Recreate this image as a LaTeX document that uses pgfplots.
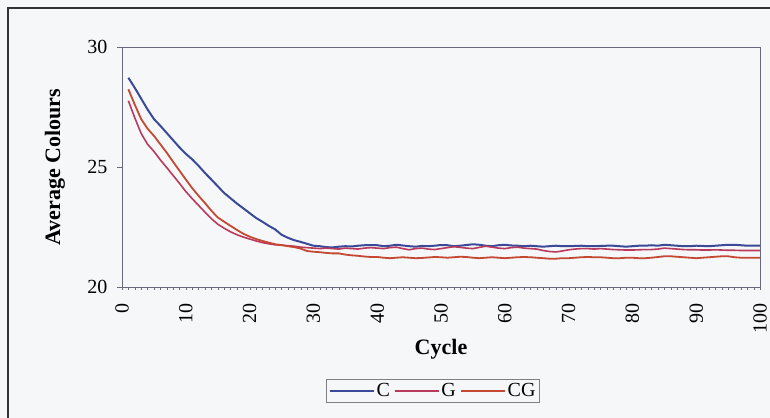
\documentclass[border=0pt]{standalone}
\usepackage{pgfplots}
\pgfplotsset{compat=1.18}
\usepackage{pgfplotstable}
\usepackage{fontspec}
\setmainfont{Liberation Serif}

\definecolor{cC}{RGB}{58,74,150}
\definecolor{cG}{RGB}{185,58,92}
\definecolor{cCG}{RGB}{196,72,50}
\definecolor{bg}{RGB}{246,247,249}
\definecolor{axc}{RGB}{105,105,125}

% average colours per cycle
\pgfplotstableread{
x C G CG
1 28.72 27.76 28.24
2 28.30 27.05 27.60
3 27.85 26.40 27.00
4 27.40 25.95 26.60
5 27.00 25.65 26.30
6 26.72 25.30 25.95
7 26.42 24.98 25.60
8 26.12 24.65 25.22
9 25.82 24.32 24.85
10 25.55 23.98 24.48
11 25.32 23.68 24.12
12 25.05 23.40 23.80
13 24.75 23.12 23.50
14 24.48 22.85 23.18
15 24.20 22.62 22.90
16 23.92 22.45 22.72
17 23.70 22.30 22.55
18 23.48 22.18 22.38
19 23.28 22.08 22.22
20 23.08 22.00 22.10
21 22.88 21.92 22.00
22 22.72 21.85 21.92
23 22.55 21.80 21.85
24 22.40 21.76 21.78
25 22.18 21.74 21.75
26 22.05 21.72 21.70
27 21.95 21.70 21.66
28 21.88 21.66 21.60
29 21.80 21.64 21.50
30 21.72 21.62 21.47
31 21.70 21.60 21.45
32 21.66 21.62 21.42
33 21.65 21.60 21.40
34 21.68 21.58 21.40
35 21.70 21.62 21.35
36 21.69 21.60 21.32
37 21.72 21.58 21.30
38 21.74 21.62 21.27
39 21.75 21.64 21.25
40 21.74 21.62 21.25
41 21.70 21.60 21.22
42 21.72 21.64 21.20
43 21.76 21.66 21.22
44 21.73 21.60 21.24
45 21.70 21.55 21.22
46 21.68 21.60 21.20
47 21.71 21.62 21.21
48 21.70 21.58 21.23
49 21.72 21.56 21.25
50 21.75 21.60 21.24
51 21.74 21.64 21.22
52 21.70 21.68 21.24
53 21.72 21.65 21.26
54 21.75 21.62 21.25
55 21.78 21.60 21.22
56 21.76 21.65 21.20
57 21.72 21.70 21.22
58 21.70 21.66 21.24
59 21.74 21.62 21.22
60 21.76 21.60 21.20
61 21.73 21.64 21.22
62 21.72 21.66 21.24
63 21.70 21.62 21.25
64 21.72 21.60 21.24
65 21.70 21.58 21.22
66 21.68 21.52 21.20
67 21.70 21.48 21.18
68 21.72 21.46 21.18
69 21.70 21.50 21.20
70 21.70 21.55 21.20
71 21.71 21.58 21.22
72 21.72 21.60 21.24
73 21.70 21.60 21.25
74 21.70 21.58 21.24
75 21.71 21.60 21.24
76 21.72 21.58 21.22
77 21.72 21.56 21.20
78 21.70 21.55 21.20
79 21.68 21.54 21.22
80 21.70 21.54 21.22
81 21.72 21.55 21.20
82 21.72 21.56 21.20
83 21.74 21.56 21.22
84 21.72 21.58 21.25
85 21.76 21.62 21.28
86 21.74 21.60 21.28
87 21.72 21.58 21.26
88 21.70 21.56 21.24
89 21.70 21.55 21.22
90 21.72 21.55 21.20
91 21.71 21.54 21.22
92 21.70 21.54 21.24
93 21.72 21.55 21.26
94 21.74 21.54 21.28
95 21.76 21.53 21.28
96 21.76 21.53 21.24
97 21.74 21.52 21.22
98 21.72 21.52 21.22
99 21.72 21.52 21.22
100 21.72 21.52 21.22
}\avgtable

\begin{document}
\begin{tikzpicture}
\useasboundingbox (0,0) rectangle (770bp,418bp);
\fill[bg] (0,0) rectangle (770bp,418bp);
\draw[black!80,line width=1.8bp] (8bp,0) -- (8bp,410bp) -- (772bp,410bp);
\begin{axis}[
	at={(122bp,131bp)}, anchor=south west,
	scale only axis, width=638bp, height=240bp,
	xmin=0, xmax=100, ymin=20, ymax=30,
	xtick={0,10,...,100}, ytick={20,25,30},
	minor x tick num=9,
	xtick pos=bottom, ytick pos=left,
	tick align=outside,
	major tick length=5bp, minor tick length=3bp,
	xtick style={axc, /pgfplots/major tick length=3bp},
	ytick style={axc},
	axis line style={axc, line width=0.8bp},
	font=\fontsize{20bp}{24bp}\selectfont,
	/pgf/number format/assume math mode=true,
	xticklabel style={rotate=90, anchor=east, xshift=-8bp, inner ysep=0pt},
	yticklabel style={xshift=-6bp},
	xlabel={\textbf{Cycle}},
	ylabel={\textbf{Average Colours}},
	label style={font=\fontsize{22bp}{26bp}\selectfont},
	xlabel style={at={(axis description cs:0.5,-0.258)}, anchor=center},
	ylabel style={at={(axis description cs:-0.105,0.5)}, anchor=center, rotate=0},
	legend columns=-1,
	legend style={at={(axis description cs:0.4875,-0.433)}, anchor=center,
		draw=gray, fill=bg, font=\fontsize{20bp}{24bp}\selectfont,
		/tikz/every even column/.append style={column sep=2bp},
		inner sep=2bp},
	legend image code/.code={\draw[#1] (0bp,0bp) -- (44bp,0bp);},
]
\addplot[cC, line width=2bp] table[x=x, y=C] {\avgtable};
\addplot[cG, line width=1.6bp] table[x=x, y=G] {\avgtable};
\addplot[cCG, line width=1.8bp] table[x=x, y=CG] {\avgtable};
\legend{C, G, CG}
\end{axis}
\end{tikzpicture}
\end{document}
